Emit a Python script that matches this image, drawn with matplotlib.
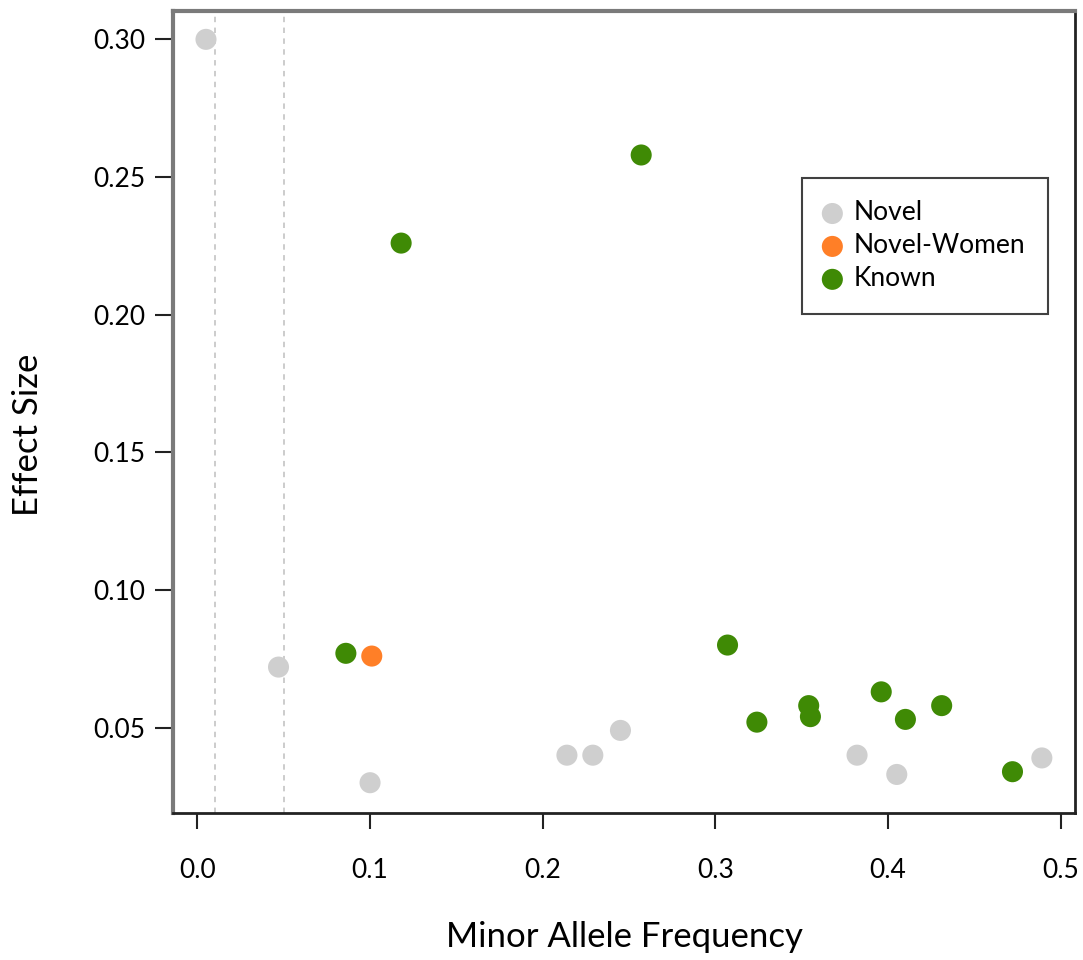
import matplotlib
matplotlib.use("Agg")
import matplotlib.pyplot as plt

plt.rcParams['font.family'] = ['Lato', 'DejaVu Sans']

# Data
novel_maf = [0.005, 0.047, 0.100, 0.214, 0.229, 0.245, 0.382, 0.405, 0.489]
novel_eff = [0.300, 0.072, 0.030, 0.040, 0.040, 0.049, 0.040, 0.033, 0.039]

women_maf = [0.101]
women_eff = [0.076]

known_maf = [0.257, 0.118, 0.086, 0.307, 0.324, 0.354, 0.355, 0.396, 0.410, 0.431, 0.472]
known_eff = [0.258, 0.226, 0.077, 0.080, 0.052, 0.058, 0.054, 0.063, 0.053, 0.058, 0.034]

thresholds = [0.01, 0.05]
x_ticks = [0.0, 0.1, 0.2, 0.3, 0.4, 0.5]
x_ticklabels = ['0.0', '0.1', '0.2', '0.3', '0.4', '0.5']
y_ticks = [0.05, 0.10, 0.15, 0.20, 0.25, 0.30]
y_ticklabels = ['0.05', '0.10', '0.15', '0.20', '0.25', '0.30']

fig = plt.figure(figsize=(10.83, 9.6), dpi=100)
W, H = 1083, 960
left, right, top, bottom = 173, 1075, 11, 813
ax = fig.add_axes([left / W, 1 - bottom / H, (right - left) / W, (bottom - top) / H])

for t in thresholds:
    ax.axvline(t, color='#c8c8c8', ls=(0, (3, 3)), lw=1.3, zorder=1)

ms = 230
ax.scatter(novel_maf, novel_eff, s=ms, color='#cfcfcf', edgecolors='none', label='Novel', zorder=3)
ax.scatter(women_maf, women_eff, s=ms, color='#ff7f27', edgecolors='none', label='Novel-Women', zorder=3)
ax.scatter(known_maf, known_eff, s=ms, color='#3f8a05', edgecolors='none', label='Known', zorder=3)

ax.set_xlim(-0.0141, 0.5082)
ax.set_ylim(0.019, 0.3103)
ax.set_xticks(x_ticks)
ax.set_xticklabels(x_ticklabels)
ax.set_yticks(y_ticks)
ax.set_yticklabels(y_ticklabels)

ax.tick_params(axis='x', length=11.5, width=1.5, pad=21, labelsize=19, color='#222222')
ax.tick_params(axis='y', length=13, width=1.5, pad=7, labelsize=19, color='#222222')

for s in ['top', 'left']:
    ax.spines[s].set_color('#7a7a7a')
    ax.spines[s].set_linewidth(3)
for s in ['bottom', 'right']:
    ax.spines[s].set_color('#222222')
    ax.spines[s].set_linewidth(2)

ax.set_xlabel('Minor Allele Frequency', fontsize=25, va='center')
ax.xaxis.set_label_coords(0.5, (bottom - 937) / (bottom - top))
ax.set_ylabel('Effect Size', fontsize=25, va='center')
ax.yaxis.set_label_coords((28 - left) / (right - left), (bottom - 435) / (bottom - top))

leg = ax.legend(loc='upper left', bbox_to_anchor=((802 - left) / (right - left), (bottom - 178) / (bottom - top)),
                borderaxespad=0, fancybox=False, frameon=True, fontsize=19,
                handletextpad=0.5, labelspacing=0.3, borderpad=0.85, handlelength=0.6)
leg.get_frame().set_edgecolor('#111111')
leg.get_frame().set_linewidth(1.5)

fig.savefig('out.png', dpi=100)
